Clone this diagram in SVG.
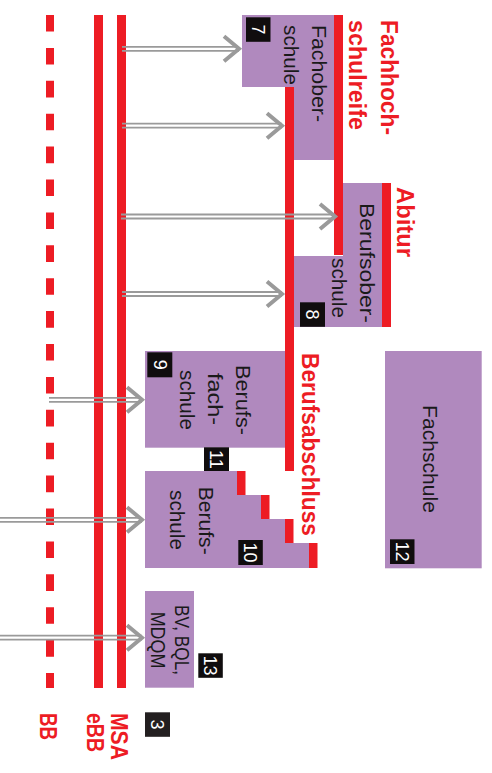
<svg xmlns="http://www.w3.org/2000/svg" width="492" height="773" viewBox="0 0 492 773">
<style>
.red{fill:#ed1c24}
.pur{fill:#b089be}
.nb{fill:#100d0e}
.t{font-family:"Liberation Sans",Arial,sans-serif;font-size:21px;fill:#1a1a1a}
.rt{font-family:"Liberation Sans",Arial,sans-serif;font-size:24px;font-weight:bold;fill:#ed1c24}
.num{font-family:"Liberation Sans",Arial,sans-serif;font-size:18px;fill:#fff;text-anchor:middle}
.ln{stroke:#9a9a9a;stroke-width:1.8;fill:none}
.hd{stroke:#9a9a9a;stroke-width:4;fill:none;stroke-linejoin:miter}
</style>
<rect width="492" height="773" fill="#fff"/>
<g id="levels">
<line x1="50" y1="15" x2="50" y2="688" stroke="#ed1c24" stroke-width="8" stroke-dasharray="16.6 16.3"/>
<rect class="red" x="94" y="15" width="9" height="673"/>
<rect class="red" x="117" y="15" width="9" height="673"/>
</g>
<g id="fachoberschule">
<polygon class="pur" points="242,15 334,15 334,160 294,160 294,87 242,87"/>
<rect class="red" x="334" y="15" width="9" height="240"/>
<rect class="red" x="285" y="87" width="9" height="384"/>
<text class="t" transform="translate(312,25) rotate(90)" textLength="97" lengthAdjust="spacingAndGlyphs">Fachober-</text>
<text class="t" transform="translate(284,25) rotate(90)" textLength="60" lengthAdjust="spacingAndGlyphs">schule</text>
<rect class="nb" x="246" y="17.3" width="24.5" height="24.5"/>
<text class="num" transform="translate(252.2,29.5) rotate(90)">7</text>
</g>
<g id="berufsoberschule">
<polygon class="pur" points="343,183 382,183 382,327 294,327 294,256 343,256"/>
<rect class="red" x="382" y="183" width="9" height="144"/>
<rect class="red" x="285" y="256" width="9" height="71"/>
<text class="t" transform="translate(360,203) rotate(90)" textLength="120" lengthAdjust="spacingAndGlyphs">Berufsober-</text>
<text class="t" transform="translate(332,258) rotate(90)" textLength="60" lengthAdjust="spacingAndGlyphs">schule</text>
<rect class="nb" x="300" y="302.3" width="25" height="24.5"/>
<text class="num" transform="translate(306.2,314.5) rotate(90)">8</text>
</g>
<g id="berufsfachschule">
<rect class="pur" x="145" y="351" width="140" height="96.7"/>
<text class="t" transform="translate(236,400) rotate(90)" text-anchor="middle" textLength="70" lengthAdjust="spacingAndGlyphs">Berufs-</text>
<text class="t" transform="translate(208,399) rotate(90)" text-anchor="middle" textLength="52" lengthAdjust="spacingAndGlyphs">fach-</text>
<text class="t" transform="translate(180,400) rotate(90)" text-anchor="middle" textLength="60" lengthAdjust="spacingAndGlyphs">schule</text>
<rect class="nb" x="147.3" y="352.3" width="25" height="25"/>
<text class="num" transform="translate(153.5,364.8) rotate(90)">9</text>
</g>
<g id="num11">
<rect class="nb" x="204" y="447.3" width="25" height="24"/>
<text class="num" transform="translate(210.2,459.3) rotate(90)">11</text>
</g>
<g id="berufsschule">
<polygon class="pur" points="145,471 237,471 237,495 261,495 261,519 285,519 285,543 309,543 309,568 145,568"/>
<rect class="red" x="237" y="471" width="8.5" height="24"/>
<rect class="red" x="261" y="495" width="8.5" height="24"/>
<rect class="red" x="285" y="519" width="8.5" height="24"/>
<rect class="red" x="309" y="543" width="8.5" height="25"/>
<text class="t" transform="translate(198.5,486.7) rotate(90)" textLength="68" lengthAdjust="spacingAndGlyphs">Berufs-</text>
<text class="t" transform="translate(170,490) rotate(90)" textLength="60" lengthAdjust="spacingAndGlyphs">schule</text>
<rect class="nb" x="238.3" y="540" width="24.5" height="25"/>
<text class="num" transform="translate(244.2,552.5) rotate(90)">10</text>
</g>
<g id="fachschule">
<rect class="pur" x="385" y="351" width="96.7" height="217.3"/>
<text class="t" transform="translate(423,405) rotate(90)" textLength="108" lengthAdjust="spacingAndGlyphs">Fachschule</text>
<rect class="nb" x="390" y="539.3" width="24.5" height="24.7"/>
<text class="num" transform="translate(395.9,551.6) rotate(90)">12</text>
</g>
<g id="bv">
<rect class="pur" x="145" y="591" width="49" height="96.7"/>
<text class="t" transform="translate(175,605) rotate(90)" textLength="70" lengthAdjust="spacingAndGlyphs">BV, BQL,</text>
<text class="t" transform="translate(150.5,611.7) rotate(90)" textLength="56.6" lengthAdjust="spacingAndGlyphs">MDQM</text>
<rect class="nb" x="198.3" y="653.3" width="24.5" height="24.5"/>
<text class="num" transform="translate(204.2,665.5) rotate(90)">13</text>
</g>
<g id="num3">
<rect fill="#231f20" x="145" y="712.3" width="25" height="24.5"/>
<text class="num" transform="translate(151.2,724.5) rotate(90)">3</text>
</g>
<g id="connectors">
<path class="ln" d="M122,46.8H239M122,50.8H239"/>
<path class="hd" d="M224,36.3L239,48.8L224,61.3"/>
<path class="ln" d="M122,123.7H282M122,127.7H282"/>
<path class="hd" d="M267,113.2L282,125.7L267,138.2"/>
<path class="ln" d="M121,214.5H335M121,218.5H335"/>
<path class="hd" d="M320,204L335,216.5L320,229"/>
<path class="ln" d="M122,292H282M122,296H282"/>
<path class="hd" d="M267,281.5L282,294L267,306.5"/>
<path class="ln" d="M49,397.8H142M49,401.8H142"/>
<path class="hd" d="M127,387.3L142,399.8L127,412.3"/>
<path class="ln" d="M0,517.8H142M0,521.8H142"/>
<path class="hd" d="M127,507.3L142,519.8L127,532.3"/>
<path class="ln" d="M0,635.7H142M0,639.7H142"/>
<path class="hd" d="M127,625.2L142,637.7L127,650.2"/>
</g>
<g id="labels">
<text class="rt" transform="translate(381,20) rotate(90)" textLength="115" lengthAdjust="spacingAndGlyphs">Fachhoch-</text>
<text class="rt" transform="translate(349,20) rotate(90)" textLength="110" lengthAdjust="spacingAndGlyphs">schulreife</text>
<text class="rt" transform="translate(397,187) rotate(90)" textLength="70" lengthAdjust="spacingAndGlyphs">Abitur</text>
<text class="rt" transform="translate(302,353) rotate(90)" textLength="183" lengthAdjust="spacingAndGlyphs">Berufsabschluss</text>
<text class="rt" transform="translate(40,713) rotate(90)" textLength="27" lengthAdjust="spacingAndGlyphs">BB</text>
<text class="rt" transform="translate(111,713) rotate(90)" textLength="47" lengthAdjust="spacingAndGlyphs">MSA</text>
<text class="rt" transform="translate(87,713) rotate(90)" textLength="39" lengthAdjust="spacingAndGlyphs">eBB</text>
</g>
</svg>
